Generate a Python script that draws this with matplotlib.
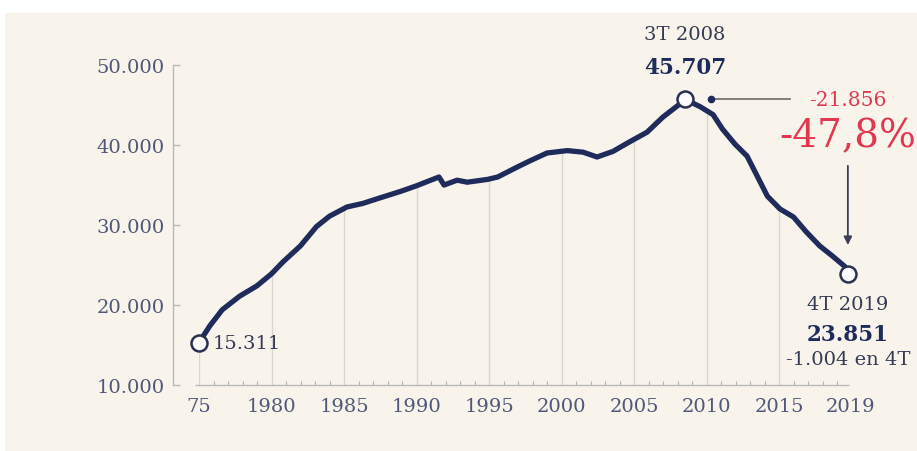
import numpy as np
import matplotlib
matplotlib.use('Agg')
import matplotlib.pyplot as plt
from matplotlib.patches import Rectangle


# =========================
# 数据
# =========================

years = [1975.0, 1975.75, 1976.6, 1977.8, 1979.0, 1980.0, 1980.8, 1982.0,
         1983.1, 1984.0, 1985.2, 1986.3, 1987.5, 1988.9, 1990.0, 1990.7,
         1991.55, 1991.9, 1992.8, 1993.5, 1994.9, 1995.6, 1996.9, 1997.8,
         1999.0, 2000.4, 2001.5, 2002.45, 2003.55, 2004.7, 2005.9, 2007.0,
         2008.0, 2008.5, 2009.55, 2010.45, 2011.1, 2011.97, 2012.8, 2013.5,
         2014.2, 2015.07, 2016.0, 2016.9, 2017.8, 2018.7, 2019.55, 2019.75]

values = [15311, 17400, 19400, 21100, 22400, 23900, 25400, 27400,
          29800, 31100, 32250, 32700, 33400, 34200, 34900, 35400,
          36000, 35000, 35600, 35350, 35700, 36000, 37200, 38000,
          39000, 39300, 39100, 38500, 39200, 40400, 41600, 43500,
          44900, 45707, 44800, 43800, 42000, 40100, 38600, 36100,
          33600, 32000, 31000, 29100, 27400, 26100, 24800, 23851]

y_ticks = [10000, 20000, 30000, 40000, 50000]
y_labels = ['10.000', '20.000', '30.000', '40.000', '50.000']

x_ticks = [1975, 1980, 1985, 1990, 1995, 2000, 2005, 2010, 2015, 2019.9]
x_labels = ['75', '1980', '1985', '1990', '1995', '2000', '2005', '2010',
            '2015', '2019']

grid_years = [1975, 1980, 1985, 1990, 1995, 2000, 2005, 2010, 2015]

start_year, start_value = 1975.0, 15311
peak_year, peak_value = 2008.5, 45707
end_year, end_value = 2019.75, 23851


# =========================
# 样式
# =========================

plt.rcParams['font.family'] = ['DejaVu Serif']

navy = '#1f2b5b'
label_col = '#4f5878'
text_col = '#363b54'
red = '#e2384f'
cream = '#f8f4ec'

fig = plt.figure(figsize=(9.17, 4.52), dpi=100)
fig.patch.set_facecolor('white')

# 背景米色块
fig.patches.append(Rectangle((5 / 917, 0), 1, 438 / 452,
                             transform=fig.transFigure,
                             facecolor=cream, edgecolor='none', zorder=-10))

ax = fig.add_axes([173 / 917, 66 / 452, (905 - 173) / 917, 320 / 452])
ax.patch.set_alpha(0)

ax.set_xlim(1975 - 26 / 14.5, 1975 + (905 - 199) / 14.5)
ax.set_ylim(10000, 50000)

for side in ['top', 'right', 'bottom']:
    ax.spines[side].set_visible(False)
ax.spines['left'].set_color('#b8b8b8')
ax.spines['left'].set_linewidth(1)


# =========================
# 曲线和网格
# =========================

# 网格线只画到曲线下方
under = ax.fill_between(years, values, 10000, color='none')
clip = under.get_paths()[0]

grid = ax.vlines(grid_years, 10000, 50000, color='#d9d6d0', linewidth=1,
                 zorder=1)
grid.set_clip_path(clip, ax.transData)

# x 轴线
ax.hlines(10000, 1974.72, 2019.8, color='#b8b8b8', linewidth=1,
          clip_on=False, zorder=2)

ax.plot(years, values, color=navy, linewidth=3.8, solid_capstyle='round',
        solid_joinstyle='round', zorder=3)

for xx, yy in [(start_year, start_value), (peak_year, peak_value),
               (end_year, end_value)]:
    ax.plot(xx, yy, marker='o', markersize=11.5, markerfacecolor='#fbfbfd',
            markeredgecolor='#2a3050', markeredgewidth=1.8, zorder=4,
            clip_on=False)


# =========================
# 刻度
# =========================

ax.set_yticks(y_ticks)
ax.set_yticklabels(y_labels)
ax.tick_params(axis='y', direction='in', length=5, width=1,
               color='#b8b8b8', labelsize=14, labelcolor=label_col, pad=6)

ax.set_xticks(x_ticks)
ax.set_xticklabels(x_labels)
ax.set_xticks(np.arange(1975, 2020), minor=True)
ax.tick_params(axis='x', which='major', length=0, labelsize=14,
               labelcolor=label_col, pad=9)
ax.tick_params(axis='x', which='minor', direction='in', length=3,
               width=0.8, color='#b0b0b0')


# =========================
# 标注
# =========================

ax.text(1975.97, 15200, '15.311', fontsize=14, color=text_col,
        ha='left', va='center')

ax.text(peak_year, 53900, '3T 2008', fontsize=14, color=text_col,
        ha='center', va='center', clip_on=False)
ax.text(peak_year, 49750, '45.707', fontsize=15.5, fontweight='bold',
        color=navy, ha='center', va='center', clip_on=False)

ax.plot(2010.3, peak_value, marker='o', markersize=4.5, color=navy,
        zorder=4)
ax.plot([2010.3, 2015.75], [peak_value, peak_value], color='#6b6b6b',
        linewidth=1.2, zorder=3)

ax.text(end_year, peak_value, '-21.856', fontsize=14.5, color=red,
        ha='center', va='center')
ax.text(end_year, 41100, '-47,8%', fontsize=28, color=red,
        ha='center', va='center')

ax.annotate('', xy=(end_year, 27500), xytext=(end_year, 37400),
            arrowprops=dict(arrowstyle='-|>', color='#3a3f55', lw=1.3,
                            mutation_scale=12, shrinkA=0, shrinkB=0))

ax.text(end_year, 20100, '4T 2019', fontsize=14, color=text_col,
        ha='center', va='center')
ax.text(end_year, 16400, '23.851', fontsize=15.5, fontweight='bold',
        color=navy, ha='center', va='center')
ax.text(end_year, 13250, '-1.004 en 4T', fontsize=14, color=text_col,
        ha='center', va='center', clip_on=False)

fig.savefig('out.png', dpi=100, facecolor=fig.get_facecolor())
